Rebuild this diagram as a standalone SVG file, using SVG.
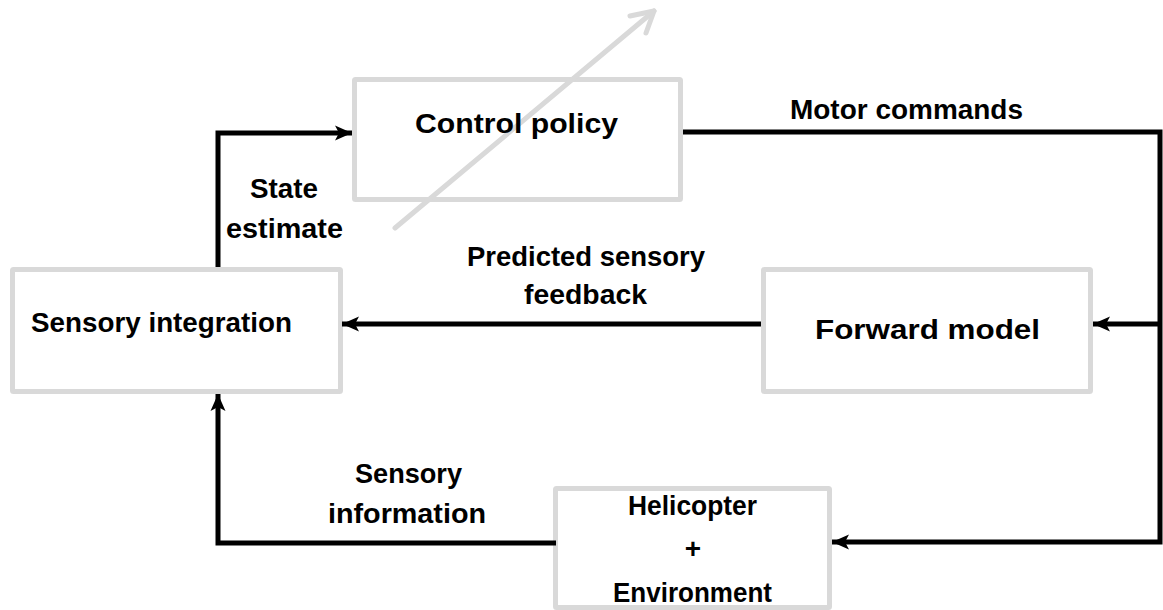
<svg xmlns="http://www.w3.org/2000/svg" width="1163" height="610" viewBox="0 0 1163 610">
<style>
.box{fill:#fff;stroke:#d9d9d9;stroke-width:5}
.t{font-family:"Liberation Sans",Arial,sans-serif;font-weight:bold;fill:#000;font-size:28px}
.c{stroke:#000;stroke-width:5;fill:none}
.g{stroke:#d9d9d9;stroke-width:5;fill:none;stroke-linecap:round;stroke-linejoin:round}
</style>
<defs>
<marker id="ah" markerUnits="userSpaceOnUse" markerWidth="20" markerHeight="18" refX="17" refY="9" orient="auto">
<path d="M0,1.5 L17,9 L0,16.5 L4,9 Z" fill="#000"/>
</marker>
</defs>
<rect width="1163" height="610" fill="#fff"/>
<g id="control-policy">
<rect class="box" x="354.5" y="79.5" width="326" height="120" rx="1"/>
<g id="adaptive-arrow">
<line class="g" x1="395" y1="228" x2="654" y2="11"/>
<polyline class="g" points="630,16 654,11 646,33"/>
</g>
<text class="t" x="415" y="133" font-size="29" textLength="203" lengthAdjust="spacingAndGlyphs">Control policy</text>
</g>
<g id="sensory-integration">
<rect class="box" x="12.5" y="269.5" width="328" height="122" rx="1"/>
<text class="t" x="31" y="332" textLength="261" lengthAdjust="spacingAndGlyphs">Sensory integration</text>
</g>
<g id="forward-model">
<rect class="box" x="763.5" y="269.5" width="327" height="122" rx="1"/>
<text class="t" x="815" y="339" font-size="31" textLength="225" lengthAdjust="spacingAndGlyphs">Forward model</text>
</g>
<g id="helicopter">
<rect class="box" x="555.5" y="488.5" width="274" height="119" rx="1"/>
<text class="t" x="628" y="515" textLength="129" lengthAdjust="spacingAndGlyphs">Helicopter</text>
<text class="t" x="693" y="558" text-anchor="middle">+</text>
<text class="t" x="613" y="602" textLength="159" lengthAdjust="spacingAndGlyphs">Environment</text>
</g>
<g id="connectors">
<polyline class="c" points="218,267 218,133 352,133" marker-end="url(#ah)"/>
<polyline class="c" points="683,132 1160,132 1160,542 832,542" marker-end="url(#ah)"/>
<line class="c" x1="1160" y1="324" x2="1093" y2="324" marker-end="url(#ah)"/>
<line class="c" x1="761" y1="324" x2="342" y2="324" marker-end="url(#ah)"/>
<polyline class="c" points="556,543 218,543 218,394" marker-end="url(#ah)"/>
</g>
<g id="labels">
<text class="t" x="790" y="119" textLength="233" lengthAdjust="spacingAndGlyphs">Motor commands</text>
<text class="t" x="250" y="198" textLength="68" lengthAdjust="spacingAndGlyphs">State</text>
<text class="t" x="226" y="238" textLength="117" lengthAdjust="spacingAndGlyphs">estimate</text>
<text class="t" x="467" y="266" textLength="238" lengthAdjust="spacingAndGlyphs">Predicted sensory</text>
<text class="t" x="524" y="304" textLength="123" lengthAdjust="spacingAndGlyphs">feedback</text>
<text class="t" x="355" y="483" textLength="107" lengthAdjust="spacingAndGlyphs">Sensory</text>
<text class="t" x="328" y="523" textLength="158" lengthAdjust="spacingAndGlyphs">information</text>
</g>
</svg>
